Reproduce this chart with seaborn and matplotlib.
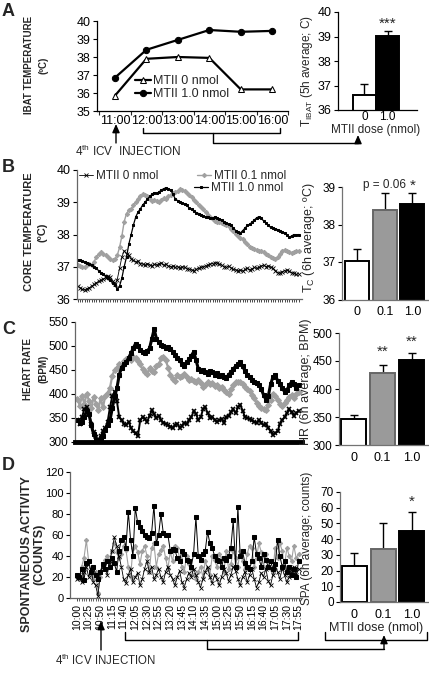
import numpy as np
import matplotlib
matplotlib.use("Agg")
import matplotlib.pyplot as plt
from matplotlib.lines import Line2D
import seaborn as sns

# ---------------- data ----------------
# panel A: IBAT temperature (hourly)
a_times = ["11:00", "12:00", "13:00", "14:00", "15:00", "16:00"]
a_mtii_0 = [35.85, 37.9, 38.0, 37.95, 36.2, 36.2]
a_mtii_10 = [36.85, 38.4, 38.95, 39.5, 39.4, 39.45]
a_doses = ["0", "1.0"]
a_means = [36.62, 39.02]
a_err_top = [37.05, 39.24]

# time axis for B-D (5 min steps, 10:00 - 17:55)
tick_times = ["10:00", "10:25", "10:50", "11:15", "11:40", "12:05", "12:30",
              "12:55", "13:20", "13:45", "14:10", "14:35", "15:00", "15:25",
              "15:50", "16:15", "16:40", "17:05", "17:30", "17:55"]
doses = ["0", "0.1", "1.0"]

# panel B: core temperature
b_mtii_0 = [36.40, 36.35, 36.30, 36.28, 36.32, 36.35, 36.40, 36.45, 36.50, 36.55,
            36.58, 36.62, 36.65, 36.70, 36.68, 36.55, 36.45, 36.60, 36.95, 37.30,
            37.50, 37.40, 37.35, 37.25, 37.20, 37.15, 37.18, 37.10, 37.08, 37.05,
            37.10, 37.05, 37.02, 37.08, 37.05, 37.10, 37.12, 37.05, 37.08, 37.02,
            37.00, 37.02, 36.98, 37.00, 36.96, 37.00, 36.98, 36.94, 36.92, 36.90,
            36.88, 36.92, 36.95, 36.98, 37.00, 37.02, 37.05, 37.08, 37.10, 37.12,
            37.12, 37.08, 37.05, 37.00, 36.98, 37.02, 36.96, 36.92, 36.90, 36.88,
            36.90, 36.86, 36.92, 36.95, 36.90, 36.94, 36.98, 36.95, 36.98, 37.02,
            37.05, 37.00, 37.03, 36.98, 36.95, 36.88, 36.82, 36.80, 36.85, 36.88,
            36.90, 36.86, 36.82, 36.80, 36.76, 36.78]
b_mtii_01 = [37.05, 37.02, 37.00, 37.00, 37.05, 37.08, 37.05, 37.15, 37.30, 37.40,
             37.45, 37.40, 37.35, 37.30, 37.25, 37.20, 37.25, 37.35, 37.60, 37.95,
             38.40, 38.65, 38.75, 38.80, 38.90, 39.00, 39.10, 39.20, 39.25, 39.22,
             39.18, 39.10, 39.05, 39.08, 39.05, 39.00, 39.08, 39.12, 39.10, 39.18,
             39.22, 39.28, 39.32, 39.35, 39.40, 39.38, 39.35, 39.30, 39.22, 39.15,
             39.08, 39.00, 38.92, 38.85, 38.78, 38.70, 38.62, 38.55, 38.48, 38.42,
             38.40, 38.38, 38.35, 38.32, 38.30, 38.25, 38.18, 38.10, 38.02, 37.95,
             37.90, 37.85, 37.78, 37.70, 37.62, 37.58, 37.55, 37.52, 37.50, 37.48,
             37.45, 37.40, 37.35, 37.30, 37.28, 37.25, 37.30, 37.40, 37.50, 37.52,
             37.48, 37.45, 37.42, 37.45, 37.48, 37.50]
b_mtii_10 = [37.20, 37.22, 37.18, 37.15, 37.12, 37.10, 37.05, 37.00, 36.95, 36.88,
             36.82, 36.78, 36.72, 36.65, 36.58, 36.50, 36.42, 36.32, 36.40, 36.65,
             37.00, 37.30, 37.70, 38.00, 38.30, 38.55, 38.70, 38.80, 38.92, 39.00,
             39.10, 39.18, 39.25, 39.30, 39.28, 39.32, 39.38, 39.42, 39.45, 39.42,
             39.38, 39.25, 39.10, 39.05, 39.00, 38.98, 38.95, 38.90, 38.82, 38.78,
             38.72, 38.68, 38.65, 38.62, 38.58, 38.55, 38.55, 38.52, 38.50, 38.55,
             38.52, 38.48, 38.45, 38.40, 38.35, 38.32, 38.28, 38.20, 38.12, 38.08,
             38.05, 38.12, 38.20, 38.28, 38.32, 38.38, 38.45, 38.52, 38.55, 38.50,
             38.42, 38.35, 38.28, 38.22, 38.20, 38.18, 38.15, 38.12, 38.08, 38.05,
             37.98, 37.92, 37.95, 38.00, 37.98, 38.00]
b_means = [37.02, 38.4, 38.55]
b_err_top = [37.35, 38.83, 38.83]

# panel C: heart rate
c_mtii_0 = [345, 338, 352, 368, 372, 358, 338, 320, 310, 304,
            312, 322, 330, 342, 372, 395, 405, 385, 352, 345,
            338, 335, 342, 330, 322, 318, 312, 345, 352, 348,
            342, 355, 366, 358, 350, 355, 345, 340, 338, 335,
            332, 330, 335, 338, 330, 334, 340, 338, 345, 352,
            365, 358, 346, 352, 368, 372, 360, 350, 352, 346,
            342, 345, 348, 340, 352, 355, 362, 368, 360, 372,
            378, 365, 352, 350, 348, 345, 342, 340, 346, 340,
            335, 338, 330, 322, 315, 318, 322, 338, 345, 352,
            360, 368, 362, 355, 360, 365]
c_mtii_01 = [390, 376, 396, 380, 400, 386, 370, 394, 380, 366,
             392, 372, 396, 402, 412, 438, 450, 455, 462, 458,
             468, 472, 475, 470, 478, 476, 468, 462, 452, 445,
             442, 455, 448, 445, 458, 462, 474, 478, 470, 455,
             440, 432, 428, 440, 436, 438, 442, 435, 430, 432,
             428, 425, 430, 422, 415, 418, 425, 420, 422, 416,
             418, 412, 415, 408, 405, 400, 410, 418, 424, 426,
             425, 420, 415, 410, 406, 398, 392, 382, 375, 370,
             368, 367, 378, 388, 400, 395, 388, 380, 374, 382,
             388, 394, 398, 392, 400, 404]
c_mtii_10 = [345, 340, 342, 352, 365, 358, 335, 316, 305, 302,
             308, 312, 325, 335, 345, 370, 395, 412, 440, 455,
             462, 466, 475, 485, 495, 505, 500, 492, 488, 485,
             490, 495, 515, 535, 515, 508, 502, 500, 495, 497,
             494, 488, 482, 476, 470, 462, 458, 466, 472, 480,
             488, 470, 452, 448, 450, 446, 442, 448, 445, 440,
             444, 438, 440, 436, 434, 440, 446, 452, 458, 462,
             466, 458, 448, 440, 436, 430, 426, 422, 418, 410,
             398, 388, 395, 420, 435, 440, 428, 420, 412, 405,
             408, 418, 425, 420, 412, 418]
c_means = [346, 428, 452]
c_err_top = [354, 443, 464]

# panel D: spontaneous activity
d_mtii_0 = [18, 22, 15, 25, 30, 20, 28, 15, 12, 2,
            25, 30, 28, 22, 35, 45, 58, 50, 40, 30,
            18, 14, 22, 28, 15, 20, 24, 12, 18, 28,
            35, 25, 30, 18, 22, 28, 20, 15, 25, 30,
            22, 18, 12, 20, 26, 15, 10, 18, 24, 20,
            28, 22, 15, 10, 18, 25, 30, 20, 14, 22,
            18, 12, 20, 28, 24, 16, 22, 30, 26, 18,
            12, 20, 25, 15, 22, 28, 18, 10, 15, 24,
            20, 28, 16, 12, 22, 30, 25, 18, 28, 22,
            15, 20, 26, 30, 22, 28]
d_mtii_01 = [20, 18, 30, 38, 55, 35, 22, 18, 25, 5,
             20, 30, 36, 40, 33, 45, 52, 44, 38, 42,
             50, 46, 30, 20, 48, 50, 44, 32, 45, 50,
             40, 25, 48, 52, 30, 42, 46, 50, 38, 28,
             44, 35, 50, 48, 38, 30, 25, 40, 32, 28,
             22, 18, 25, 30, 20, 35, 28, 22, 40, 36,
             30, 42, 38, 25, 45, 28, 32, 45, 38, 30,
             45, 35, 28, 42, 50, 48, 30, 38, 52, 44,
             30, 42, 35, 28, 25, 48, 38, 52, 45, 30,
             48, 40, 35, 50, 38, 42]
d_mtii_10 = [22, 20, 28, 17, 33, 35, 25, 30, 22, 18,
             25, 32, 28, 35, 30, 38, 33, 25, 45, 55,
             58, 48, 82, 55, 40, 86, 72, 68, 64, 60,
             58, 57, 62, 88, 52, 60, 80, 62, 60, 60,
             45, 47, 46, 38, 35, 45, 42, 36, 35, 30,
             42, 77, 40, 36, 42, 45, 63, 52, 48, 40,
             36, 35, 30, 38, 36, 40, 48, 74, 30, 87,
             40, 45, 33, 30, 28, 35, 58, 42, 38, 30,
             42, 36, 30, 35, 28, 32, 55, 40, 30, 35,
             25, 30, 22, 28, 20, 35]
d_means = [23, 33.5, 45]
d_err_top = [31, 50, 57]

# ---------------- style ----------------
sns.set_style("ticks")
plt.rcParams["font.family"] = ["Liberation Sans", "DejaVu Sans"]
plt.rcParams["mathtext.fontset"] = "custom"
plt.rcParams["mathtext.rm"] = "Liberation Sans"

W, H = 429, 675
fig = plt.figure(figsize=(W / 100, H / 100), dpi=100)
bar_colors = ["white", "#9a9a9a", "black"]
bar_edges = ["black", "#666666", "black"]


def box(x0, y0, x1, y1):
    # axes from pixel box (top-left origin)
    return fig.add_axes([x0 / W, 1 - y1 / H, (x1 - x0) / W, (y1 - y0) / H])


def ftext(x, y, s, **kw):
    return fig.text(x / W, 1 - y / H, s, **kw)


def fline(xs, ys, lw=1.0):
    fig.add_artist(Line2D([x / W for x in xs], [1 - y / H for y in ys],
                          color="black", lw=lw, transform=fig.transFigure))


def farrow(x, y_from, y_to):
    fig.add_artist(plt.Annotation("", xy=(x / W, 1 - y_to / H), xytext=(x / W, 1 - y_from / H),
                                  xycoords="figure fraction",
                                  arrowprops=dict(arrowstyle="-|>,head_length=0.5,head_width=0.22",
                                                  color="black", lw=1, shrinkA=0, shrinkB=0)))


def clean(ax, spine_color="black"):
    sns.despine(ax=ax)
    for s in ["left", "bottom"]:
        ax.spines[s].set_color(spine_color)
        ax.spines[s].set_linewidth(0.9)
    ax.tick_params(colors="black", width=0.8, length=3, pad=1.5)


def bars(ax, means, tops, labels, colors, edges, width):
    sns.barplot(x=labels, y=means, hue=labels, palette=colors, legend=False,
                width=width, ax=ax, zorder=2)
    for p, ec in zip(ax.patches, edges):
        p.set_edgecolor(ec)
        p.set_linewidth(1.4)
    ax.errorbar(range(len(means)), means,
                yerr=[[0] * len(means), [t - m for t, m in zip(tops, means)]],
                fmt="none", ecolor="black", elinewidth=1, capsize=3, capthick=1, zorder=1)
    ax.set_xlabel("")
    ax.set_ylabel("")


# ---------------- panel A ----------------
axA = box(97, 21, 288, 111)
sns.lineplot(x=range(len(a_times)), y=a_mtii_0, ax=axA, color="black", lw=1.6,
             marker="^", markersize=5, markerfacecolor="white", markeredgecolor="black",
             label="MTII 0 nmol")
sns.lineplot(x=range(len(a_times)), y=a_mtii_10, ax=axA, color="black", lw=1.6,
             marker="o", markersize=4.5, markerfacecolor="black", markeredgecolor="black",
             label="MTII 1.0 nmol")
axA.set_xlim(-0.57, 5.5)
axA.set_ylim(35, 40)
axA.set_yticks(range(35, 41))
axA.set_xticks(range(len(a_times)))
axA.set_xticklabels(a_times)
axA.set_xticks(np.arange(-0.5, 6, 1), minor=True)
clean(axA)
axA.tick_params(axis="x", which="major", length=0, labelsize=9, pad=3)
axA.tick_params(axis="x", which="minor", length=3, width=0.8)
axA.tick_params(axis="y", labelsize=9)
axA.legend(loc="center left", bbox_to_anchor=(0.2, 0.26), frameon=False, fontsize=9,
           handlelength=1.3, handletextpad=0.1, labelspacing=0.05, borderpad=0, borderaxespad=0)

axAb = box(338, 12, 417, 110)
bars(axAb, a_means, a_err_top, a_doses, ["white", "black"], ["black", "black"], 1.0)
axAb.set_xlim(-1.15, 2.28)
axAb.set_ylim(36, 40)
axAb.set_yticks(range(36, 41))
clean(axAb)
axAb.tick_params(axis="x", length=0, labelsize=8.5, pad=0.5)
axAb.tick_params(axis="y", labelsize=9)
ftext(376, 130, "MTII dose (nmol)", ha="center", va="center", fontsize=8.5)
axAb.text(1, 39.52, "***", ha="center", va="center", fontsize=11)
ftext(307, 71, r"T$_{\mathrm{IBAT}}$ (5h average; C)", rotation=90, ha="center", va="center", fontsize=8.5)

ftext(2, 12, "A", fontsize=13, fontweight="bold", va="center")
ftext(36, 65, "IBAT TEMPERATURE\n(ºC)", rotation=90, ha="center", va="center",
      fontsize=7, fontweight="bold", multialignment="center", linespacing=1.6)
ftext(75, 151, r"4$^{\mathrm{th}}$ ICV  INJECTION", fontsize=8.5, va="center")
farrow(116, 143, 124)
fline([143, 143, 280, 280], [128, 133, 133, 128])
fline([213, 213, 358], [133, 143, 143])
farrow(358, 143, 135)

# ---------------- panel B ----------------
gray = "#a0a0a0"
axB = box(77, 170, 302, 299)
xs = range(len(b_mtii_0))
sns.lineplot(x=xs, y=b_mtii_01, ax=axB, color=gray, lw=1.0, marker="D", markersize=2.2,
             markeredgecolor=gray, label="MTII 0.1 nmol")
sns.lineplot(x=xs, y=b_mtii_10, ax=axB, color="black", lw=0.9, marker="s", markersize=2.0,
             markeredgecolor="black", label="MTII 1.0 nmol")
sns.lineplot(x=xs, y=b_mtii_0, ax=axB, color="black", lw=0.6, marker="x", markersize=2.5,
             markeredgewidth=0.6, markeredgecolor="black", label="MTII 0 nmol")
axB.set_xlim(-0.3, 96.5)
axB.set_ylim(36, 40)
axB.set_yticks(range(36, 41))
axB.set_xticks(range(96))
axB.set_xticklabels([])
clean(axB, "0.4")
axB.tick_params(axis="x", length=2, width=0.5)
axB.tick_params(axis="y", labelsize=9)
lines = axB.get_lines()
leg1 = axB.legend([lines[2], lines[0]], ["MTII 0 nmol", "MTII 0.1 nmol"], ncol=2,
                  loc="center left", bbox_to_anchor=(0.01, 0.95), frameon=False, fontsize=8.5,
                  handlelength=1.2, handletextpad=0.2, columnspacing=3.3, borderpad=0,
                  borderaxespad=0)
axB.add_artist(leg1)
axB.legend([lines[1]], ["MTII 1.0 nmol"], loc="center left", bbox_to_anchor=(0.52, 0.86),
           frameon=False, fontsize=8.5, handlelength=1.2, handletextpad=0.2, borderpad=0,
           borderaxespad=0)

axBb = box(342, 187, 429, 299.5)
bars(axBb, b_means, b_err_top, doses, bar_colors, bar_edges, 0.87)
axBb.set_xlim(-0.55, 2.6)
axBb.set_ylim(36, 39)
axBb.set_yticks(range(36, 40))
clean(axBb, "0.45")
axBb.tick_params(axis="x", length=0, labelsize=9, pad=5)
axBb.tick_params(axis="y", labelsize=8.5)
axBb.text(1, 39.05, "p = 0.06", ha="center", va="center", fontsize=8.5)
axBb.text(2, 39.02, "*", ha="center", va="center", fontsize=11)
ftext(309, 238, r"T$_{\mathrm{C}}$ (6h average; ºC)", rotation=90, ha="center", va="center", fontsize=9)

ftext(2, 167, "B", fontsize=13, fontweight="bold", va="center")
ftext(36, 232, "CORE TEMPERATURE\n(ºC)", rotation=90, ha="center", va="center",
      fontsize=8, fontweight="bold", multialignment="center", linespacing=1.4)

# ---------------- panel C ----------------
axC = box(75, 322, 302, 442)
sns.lineplot(x=xs, y=c_mtii_01, ax=axC, color=gray, lw=1.6, marker="D", markersize=3,
             markeredgecolor=gray)
sns.lineplot(x=xs, y=c_mtii_10, ax=axC, color="black", lw=2.2, marker="s", markersize=3.2,
             markeredgecolor="black")
sns.lineplot(x=xs, y=c_mtii_0, ax=axC, color="black", lw=1.4, marker="x", markersize=3.5,
             markeredgewidth=1.2, markeredgecolor="black")
axC.set_xlim(-1, 96.5)
axC.set_ylim(300, 550)
axC.set_yticks(range(300, 551, 50))
axC.set_xticks([])
clean(axC, "0.4")
axC.spines["bottom"].set_color("black")
axC.spines["bottom"].set_linewidth(3.5)
axC.tick_params(axis="y", labelsize=8.5)

axCb = box(339, 333, 429, 445)
bars(axCb, c_means, c_err_top, doses, bar_colors, bar_edges, 0.87)
axCb.set_xlim(-0.5, 2.6)
axCb.set_ylim(300, 500)
axCb.set_yticks(range(300, 501, 50))
clean(axCb, "0.45")
axCb.tick_params(axis="x", length=0, labelsize=9, pad=5)
axCb.tick_params(axis="y", labelsize=8.5)
axCb.text(1, 466, "**", ha="center", va="center", fontsize=11)
axCb.text(2, 484, "**", ha="center", va="center", fontsize=11)
ftext(306, 382, "HR (6h average; BPM)", rotation=90, ha="center", va="center", fontsize=9)

ftext(2, 330, "C", fontsize=13, fontweight="bold", va="center")
ftext(36, 369, "HEART RATE\n(BPM)", rotation=90, ha="center", va="center",
      fontsize=7, fontweight="bold", multialignment="center", linespacing=1.7)

# ---------------- panel D ----------------
axD = box(70, 472, 302, 598)
sns.lineplot(x=xs, y=d_mtii_01, ax=axD, color=gray, lw=0.8, marker="D", markersize=2.2,
             markeredgecolor=gray)
sns.lineplot(x=xs, y=d_mtii_0, ax=axD, color="black", lw=0.6, marker="x", markersize=2.5,
             markeredgewidth=0.6, markeredgecolor="black")
sns.lineplot(x=xs, y=d_mtii_10, ax=axD, color="black", lw=0.7, marker="s", markersize=2.2,
             markeredgecolor="black")
axD.set_xlim(-3, 96.5)
axD.set_ylim(0, 120)
axD.set_yticks(range(0, 121, 20))
axD.set_xticks(range(0, 96, 5))
axD.set_xticklabels(tick_times, rotation=90)
axD.set_xticks(range(96), minor=True)
clean(axD, "0.4")
axD.tick_params(axis="x", which="major", length=2, width=0.5, labelsize=7.5, pad=2)
axD.tick_params(axis="x", which="minor", length=2, width=0.5)
axD.tick_params(axis="y", labelsize=8)

axDb = box(340, 492, 429, 602)
bars(axDb, d_means, d_err_top, doses, bar_colors, bar_edges, 0.87)
axDb.set_xlim(-0.5, 2.6)
axDb.set_ylim(0, 70)
axDb.set_yticks(range(0, 71, 10))
clean(axDb, "0.45")
axDb.tick_params(axis="x", length=0, labelsize=9, pad=5)
axDb.tick_params(axis="y", labelsize=8.5)
ftext(376, 628, "MTII dose (nmol)", ha="center", va="center", fontsize=9)
axDb.text(2, 64, "*", ha="center", va="center", fontsize=11)
ftext(307, 538, "SPA (6h average; counts)", rotation=90, ha="center", va="center", fontsize=8.5)

ftext(2, 465, "D", fontsize=13, fontweight="bold", va="center")
ftext(33, 554, "SPONTANEOUS ACTIVITY\n(COUNTS)", rotation=90, ha="center", va="center",
      fontsize=9, fontweight="bold", multialignment="center", linespacing=1.1)
ftext(55, 660, r"4$^{\mathrm{th}}$ ICV INJECTION", fontsize=8.3, va="center")
farrow(101, 650, 621)
fline([125, 125, 298, 298], [632, 640, 640, 632])
fline([207, 207, 384], [640, 649, 649])
farrow(384, 649, 635)
fline([325, 325, 427, 427], [632, 640, 640, 632])

fig.savefig("out.png", dpi=100)
